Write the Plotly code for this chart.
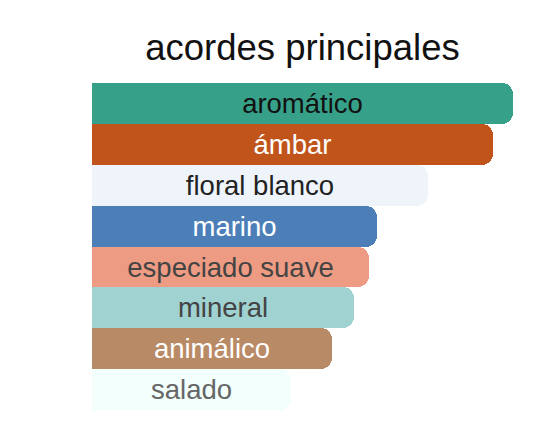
import plotly.graph_objects as go

# main accords, top to bottom
accords = ["aromático", "ámbar", "floral blanco", "marino",
           "especiado suave", "mineral", "animálico", "salado"]
strength = [100, 95.2, 79.8, 67.7, 65.8, 62.2, 57.0, 47.3]
bar_colors = ["#37A089", "#C0541B", "#EFF4FB", "#4C7FB8",
              "#ED9B82", "#A0D2D2", "#B98A66", "#F2FFFC"]
text_colors = ["#111111", "#FFFFFF", "#222222", "#FFFFFF",
               "#444444", "#444444", "#FFFFFF", "#666666"]

fig = go.Figure()
fig.add_trace(go.Bar(
    x=strength, y=accords, orientation="h",
    marker=dict(color=bar_colors, line=dict(width=0), cornerradius=11),
    text=accords, textposition="inside", insidetextanchor="middle",
    textangle=0,
    textfont=dict(family="Liberation Sans, Arial, sans-serif", size=27.5, color=text_colors),
    hoverinfo="skip",
))

# page body adds an 8px offset, so margins are shifted by that
fig.update_layout(
    width=525, height=417,
    margin=dict(l=84, r=20, t=75, b=15),
    paper_bgcolor="white", plot_bgcolor="white",
    bargap=0, showlegend=False,
    title=dict(text="acordes principales", x=0.5, xref="paper",
               y=1 - 39 / 417, yref="container", yanchor="middle",
               font=dict(family="Liberation Sans, Arial, sans-serif", size=36.5, color="#111111")),
)
fig.update_xaxes(range=[0, 100], visible=False, fixedrange=True)
fig.update_yaxes(autorange="reversed", visible=False, fixedrange=True)

fig.write_html("out.html")
